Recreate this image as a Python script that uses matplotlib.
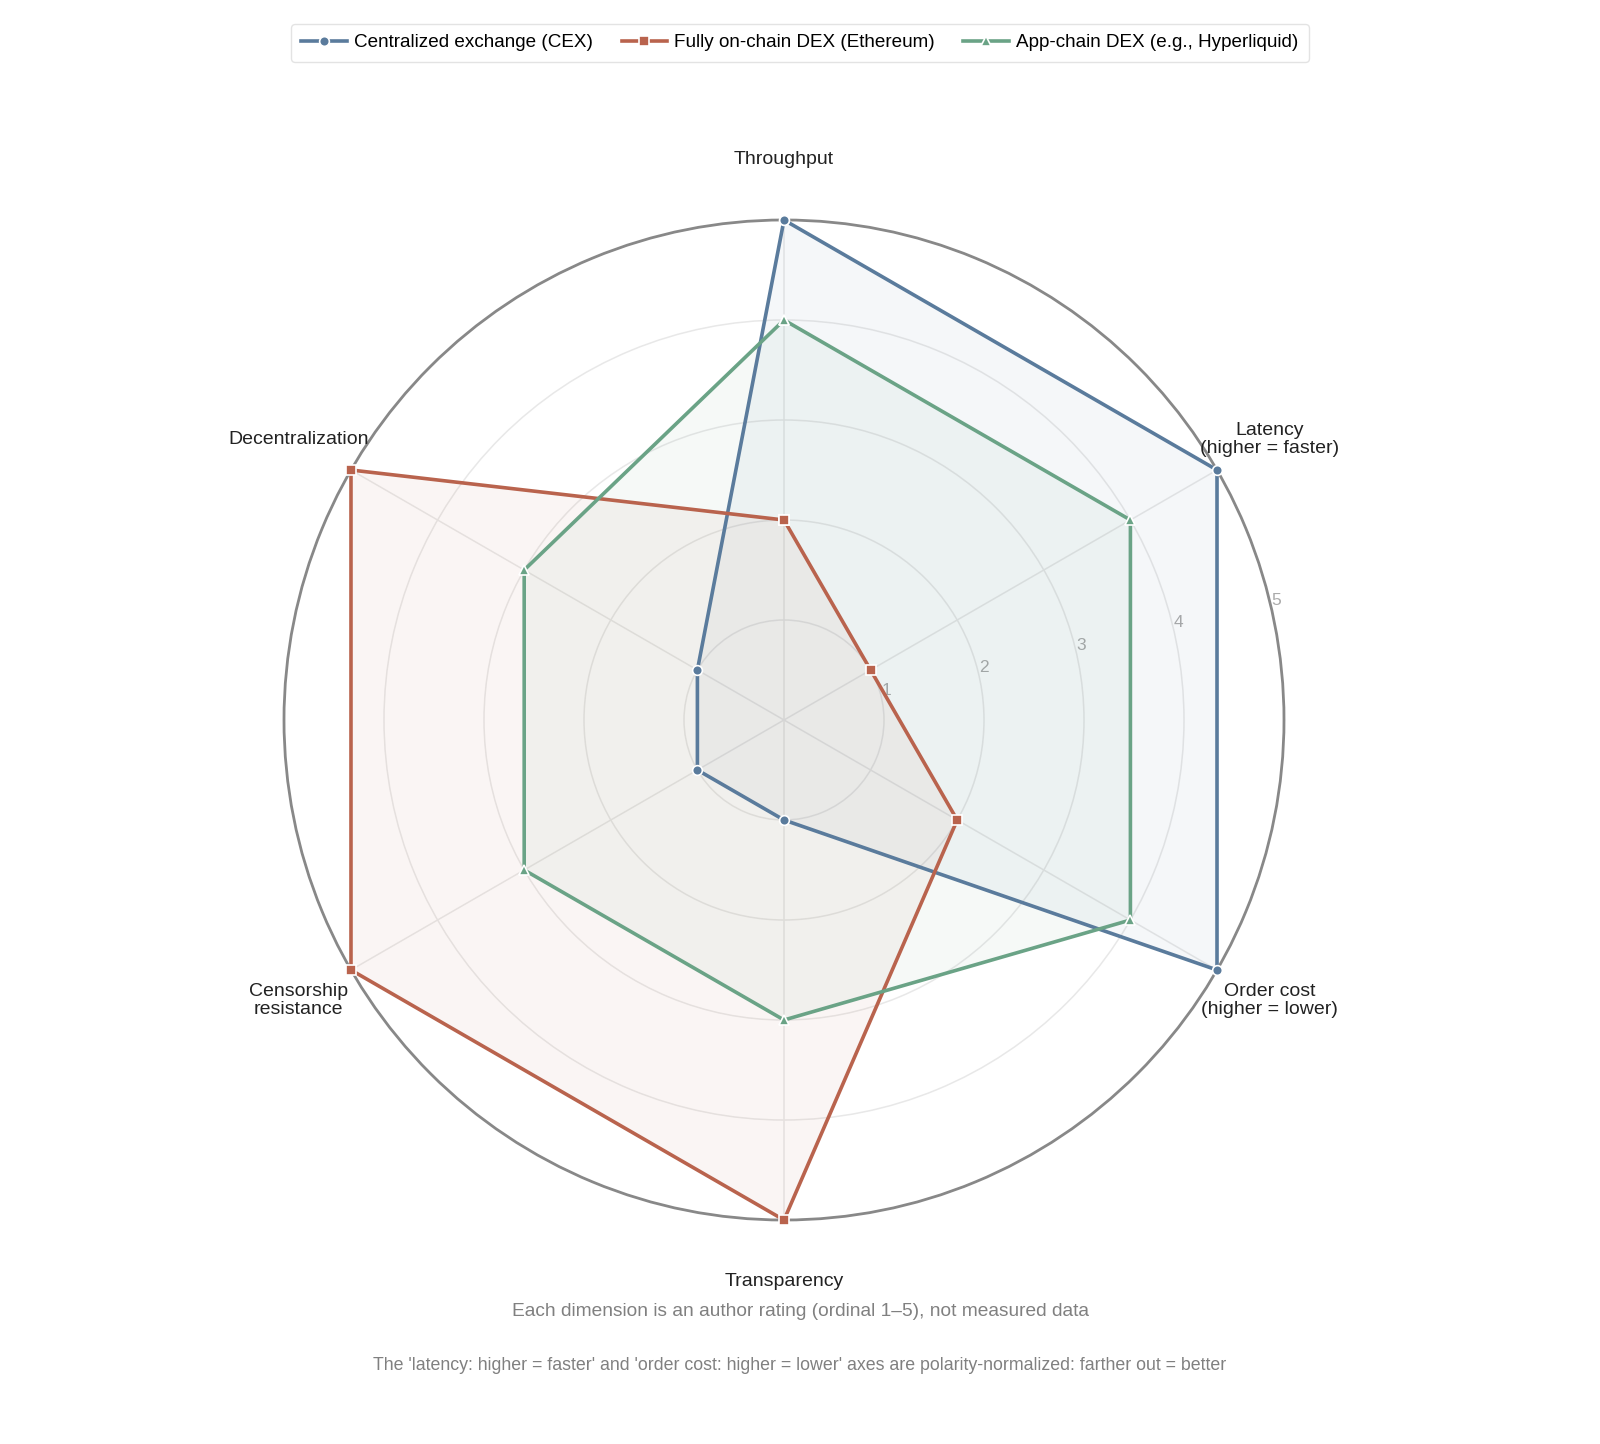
import numpy as np
import matplotlib.pyplot as plt

plt.rcParams['font.family'] = ['Liberation Sans', 'DejaVu Sans']

# axes, clockwise from top
dimensions = ['Throughput', 'Latency\n(higher = faster)', 'Order cost\n(higher = lower)',
              'Transparency', 'Censorship\nresistance', 'Decentralization']
series_names = ['Centralized exchange (CEX)', 'Fully on-chain DEX (Ethereum)',
                'App-chain DEX (e.g., Hyperliquid)']
cex = [5, 5, 5, 1, 1, 1]
dex_eth = [2, 1, 2, 5, 5, 5]
appchain = [4, 4, 4, 3, 3, 3]
radial_ticks = [1, 2, 3, 4, 5]

colors = ['#5a7b9c', '#b9634d', '#6aa386']
markers = ['o', 's', '^']

angles = np.linspace(0, 2 * np.pi, len(dimensions), endpoint=False)

fig = plt.figure(figsize=(16, 14.44), dpi=100)
ax = fig.add_axes([284 / 1600, 224 / 1444, 1000 / 1600, 1000 / 1444], projection='polar')
ax.set_theta_zero_location('N')
ax.set_theta_direction(-1)
ax.set_ylim(0, 5)

for vals, name, c, m in zip([cex, dex_eth, appchain], series_names, colors, markers):
    v = vals + vals[:1]
    a = np.append(angles, angles[0])
    ax.fill(a, v, color=c, alpha=0.06, zorder=2)
    ax.plot(a, v, color=c, lw=2.6, marker=m, markersize=7, markeredgecolor='white',
            markeredgewidth=1.2, label=name, zorder=3, clip_on=False)

# grid
ax.set_xticks(angles)
ax.set_xticklabels([])
ax.set_yticks(radial_ticks)
ax.set_yticklabels([str(t) for t in radial_ticks], color='#aaaaaa', fontsize=12.5)
ax.set_rlabel_position(77)
ax.grid(color='#e8e8e8', lw=1.1)
ax.spines['polar'].set_color('#888888')
ax.spines['polar'].set_linewidth(2)

for ang, lab in zip(angles, dimensions):
    ax.text(ang, 5.61, lab, ha='center', va='center', fontsize=14, color='#222222',
            linespacing=1.1)

fig.legend(loc='upper center', bbox_to_anchor=(0.5, 0.99), ncol=3, fontsize=13.6,
           frameon=True, edgecolor='#dddddd', handlelength=2.4, columnspacing=1.5,
           borderpad=0.55, handletextpad=0.4)

fig.text(0.5, 1 - 1312 / 1444, 'Each dimension is an author rating (ordinal 1\u20135), not measured data',
         ha='center', va='center', fontsize=13.8, color='#808080')
fig.text(0.5, 1 - 1365 / 1444,
         "The 'latency: higher = faster' and 'order cost: higher = lower' axes are "
         "polarity-normalized: farther out = better",
         ha='center', va='center', fontsize=12.8, color='#808080')

fig.savefig('out.png', dpi=100, facecolor='white')
